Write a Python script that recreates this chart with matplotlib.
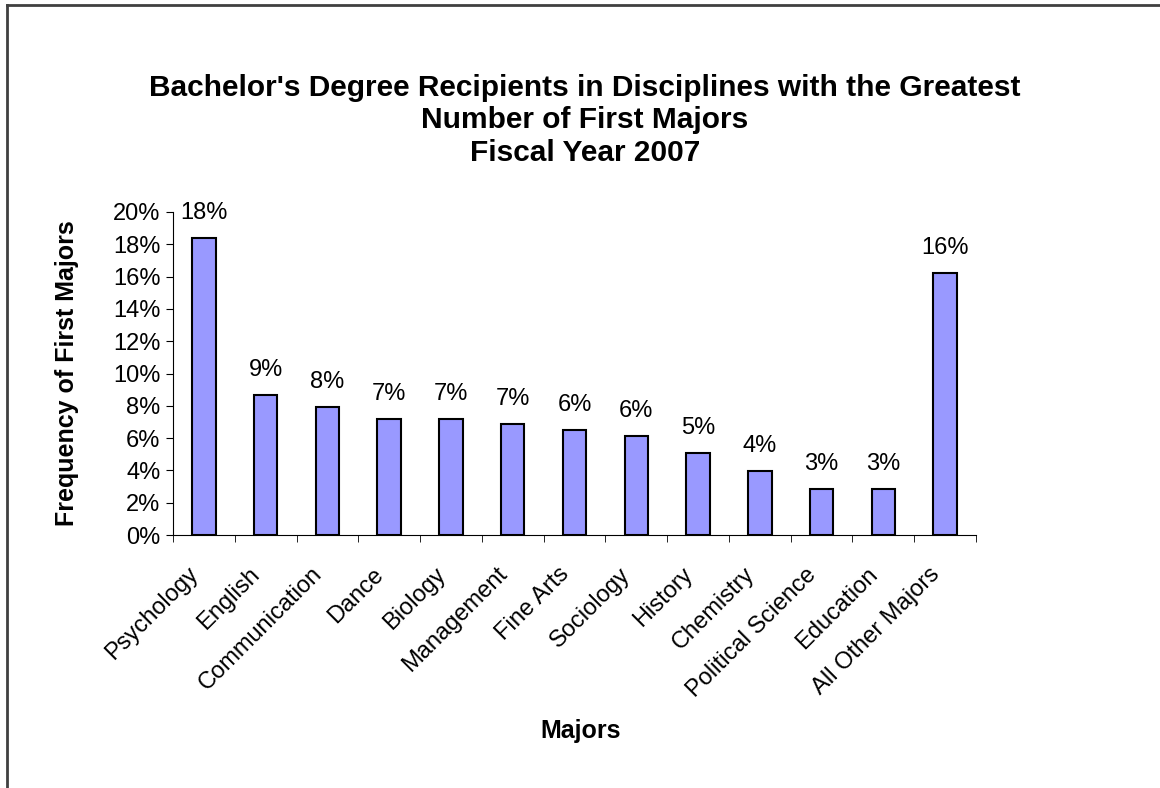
import numpy as np
import matplotlib.pyplot as plt
import matplotlib.transforms as mtrans
from matplotlib.ticker import FuncFormatter, FixedLocator

plt.rcParams['font.family'] = ['Liberation Sans', 'DejaVu Sans']

# data
majors = ["Psychology", "English", "Communication", "Dance", "Biology",
          "Management", "Fine Arts", "Sociology", "History", "Chemistry",
          "Political Science", "Education", "All Other Majors"]
share = [0.184, 0.0865, 0.0795, 0.072, 0.0718, 0.0685, 0.0648, 0.0611,
         0.0508, 0.0396, 0.0287, 0.0287, 0.1624]
labels = ["18%", "9%", "8%", "7%", "7%", "7%", "6%", "6%", "5%", "4%",
          "3%", "3%", "16%"]

fig = plt.figure(figsize=(11.6, 7.88), dpi=100)
ax = fig.add_axes([173/1160, 1 - 535/788, (976-173)/1160, (535-212)/788])

x = np.arange(len(majors))
ax.bar(x, share, width=0.38, color="#9999FF", edgecolor="black", linewidth=1.5)

for xi, v, lab in zip(x, share, labels):
    ax.annotate(lab, (xi, v), xytext=(0, 10), textcoords="offset points",
                ha="center", va="bottom", fontsize=17)

ax.set_xlim(-0.5, len(majors) - 0.5)
ax.set_ylim(0, 0.2)
ax.set_yticks(np.arange(0, 0.201, 0.02))
ax.yaxis.set_major_formatter(FuncFormatter(lambda v, p: "%d%%" % round(v * 100)))
ax.set_xticks(x)
ax.set_xticklabels(majors, rotation=45, ha="right", va="center",
                   rotation_mode="anchor", fontsize=17)
ax.xaxis.set_minor_locator(FixedLocator(np.arange(-0.5, len(majors), 1.0)))
ax.tick_params(axis="x", which="major", length=0, pad=26)
ax.tick_params(axis="x", which="minor", length=5, direction="out")
ax.tick_params(axis="y", length=5, direction="out", labelsize=17, pad=4)

# nudge the slanted labels a little to the left
shift = mtrans.ScaledTranslation(-9/100, 0, fig.dpi_scale_trans)
for t in ax.get_xticklabels():
    t.set_transform(t.get_transform() + shift)

for s in ["top", "right"]:
    ax.spines[s].set_visible(False)

ax.set_ylabel("Frequency of First Majors", fontsize=18, fontweight="bold")
ax.yaxis.set_label_coords(-(173 - 67) / 803, 0.5)
ax.yaxis.label.set_va("center")
ax.set_xlabel("Majors", fontsize=18, fontweight="bold")
ax.xaxis.set_label_coords(0.5075, -(731 - 535) / 323)
ax.xaxis.label.set_va("center")

fig.text(585/1160, 1 - 74/788,
         "Bachelor's Degree Recipients in Disciplines with the Greatest\n"
         "Number of First Majors\nFiscal Year 2007",
         ha="center", va="top", fontsize=21.5, fontweight="bold", linespacing=1.2)

# frame of the chart area, only top and left edges are visible
fig.add_artist(plt.Line2D([7/1160, 7/1160], [0, 1 - 5/788], color="#404040", linewidth=2))
fig.add_artist(plt.Line2D([7/1160, 1], [1 - 5/788, 1 - 5/788], color="#404040", linewidth=2))

fig.savefig("out.png", dpi=100)
